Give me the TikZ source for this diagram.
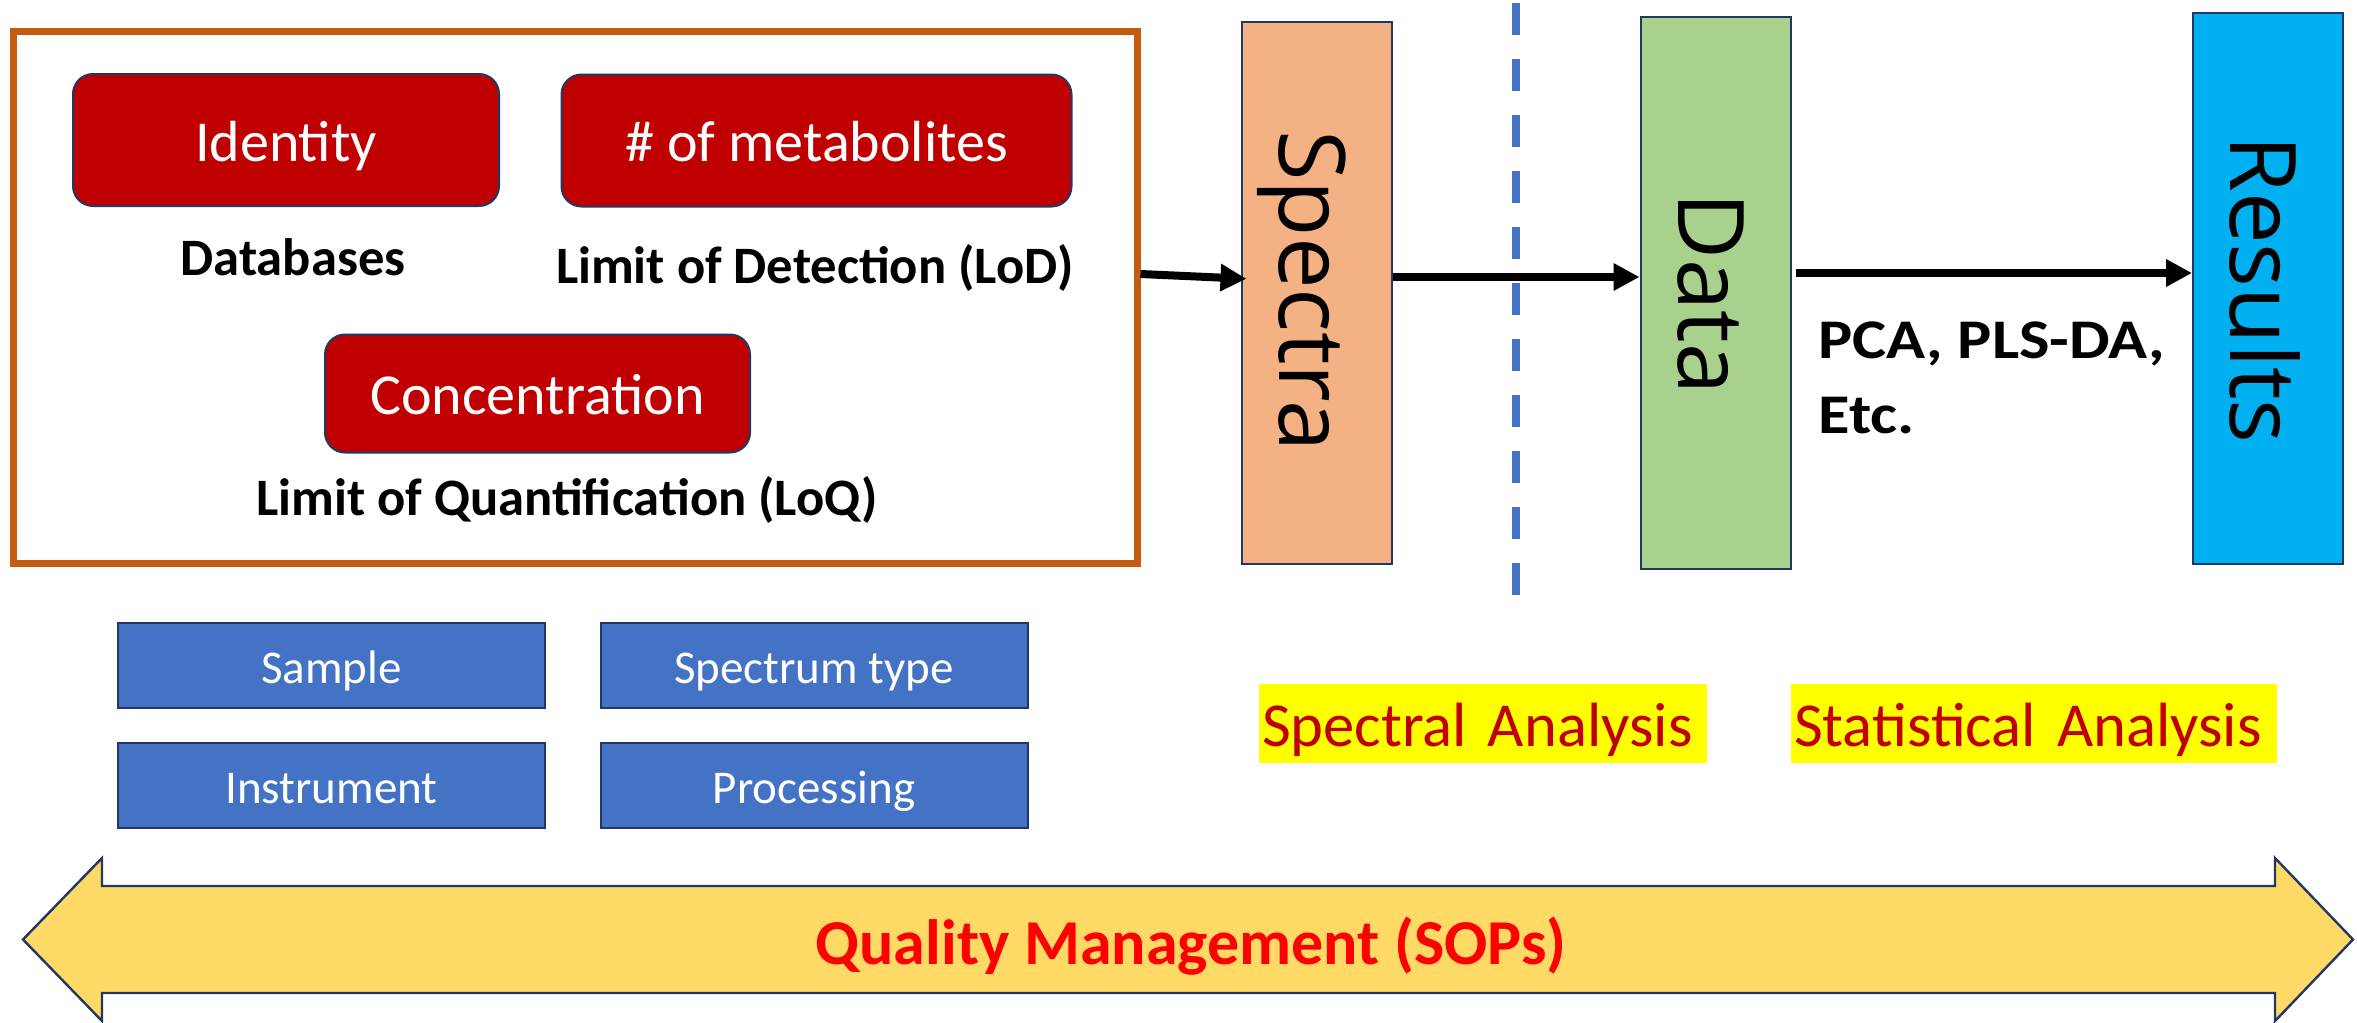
\documentclass[tikz,border=0pt]{standalone}
\usepackage{fontspec}
\setmainfont{Carlito}
\newfontfamily\stagefont{Open Sans}
\usetikzlibrary{arrows.meta}

\definecolor{frameorange}{HTML}{C55A11}
\definecolor{boxred}{HTML}{C00000}
\definecolor{navy}{HTML}{203864}
\definecolor{spectrafill}{HTML}{F4B183}
\definecolor{datafill}{HTML}{A9D18E}
\definecolor{resultsfill}{HTML}{00B0F0}
\definecolor{factorblue}{HTML}{4472C4}
\definecolor{qmfill}{HTML}{FFD966}
\definecolor{qmred}{HTML}{FF0000}
\definecolor{hilite}{HTML}{FFFF00}

\begin{document}
\begin{tikzpicture}[x=0.5pt,y=-0.5pt,
  redbox/.style={draw=navy, line width=1pt, fill=boxred, rounded corners=10pt,
    text=white, font=\fontsize{29}{35}\selectfont,
    text height=21.3pt, text depth=0pt, inner sep=0pt},
  caption/.style={font=\bfseries\fontsize{26.3}{31}\selectfont, inner sep=0pt, anchor=base},
  stagebox/.style={draw=navy, line width=1pt, minimum width=75pt, inner sep=0pt},
  stagetext/.style={font=\stagefont\fontsize{46}{55}\selectfont, rotate=-90,
    anchor=base, inner sep=0pt},
  flow/.style={line width=4pt, -{Triangle[length=13pt,width=13pt]}},
  factor/.style={draw=navy, line width=1pt, fill=factorblue, text=white,
    minimum width=213.5pt, minimum height=42.5pt, inner sep=0pt,
    font=\fontsize{23.5}{28}\selectfont, text height=17.5pt, text depth=0pt},
  phase/.style={fill=hilite, text=boxred, minimum height=39.5pt, inner ysep=0pt,
    inner xsep=1.5pt, align=left, text width=#1,
    font=\fontsize{31.3}{38}\selectfont, text height=23.3pt, text depth=0pt},
  qmarrow/.style={fill=qmfill, draw=navy, line width=1.2pt},
]
\useasboundingbox (0,0) rectangle (2357,1023);

% validation frame with the three figures of merit
\node[draw=frameorange, line width=3.5pt, minimum width=561.75pt, minimum height=266pt,
  inner sep=0pt] (frame) at (575.25,297.5) {};
\node[redbox, minimum width=213pt, minimum height=66pt] (identity) at (286,140) {Identity};
\node[redbox, minimum width=255pt, minimum height=66pt] (nmet) at (816.5,140.5) {\# of metabolites};
\node[redbox, minimum width=212.5pt, minimum height=59pt] (conc) at (537.5,393.5) {Concentration};
\node[caption] (db) at (293,275) {Databases};
\node[caption] (lod) at (815,283) {Limit of Detection (LoD)};
\node[caption] (loq) at (567,515) {Limit of Quantification (LoQ)};

% pipeline stages
\node[stagebox, fill=spectrafill, minimum height=271pt] (spectra) at (1316.5,293) {};
\node[stagebox, fill=datafill, minimum height=276pt] (data) at (1715.5,293) {};
\node[stagebox, fill=resultsfill, minimum height=275.5pt] (results) at (2268,288.5) {};
\node[stagetext] (spectraT) at (1279,291) {Spectra};
\node[stagetext] (dataT) at (1678,293.5) {Data};
\node[stagetext] (resultsT) at (2230,289.5) {Results};

% separator between spectral and statistical parts
\draw[factorblue, line width=4pt, dash pattern=on 16pt off 12pt] (1516,3) -- (1516,596);

% flow arrows
\draw[flow, shorten >=-3pt] ([yshift=11.75pt]frame.east) -- ([yshift=7.25pt]spectra.west);
\draw[flow] ([yshift=8pt]spectra.east) -- ([yshift=8pt]data.west);
\coordinate (row) at ([yshift=10pt]data.east);
\draw[flow, shorten <=2pt] (row) -- (row -| results.west);

\node[anchor=north west, align=left, inner sep=0pt, xscale=1.15,
  font=\bfseries\fontsize{28}{37.5}\selectfont] (methods) at (1818,321) {PCA, PLS-DA,\\Etc.};

% factors influencing the spectra
\node[factor] (sample) at (331.5,665.5) {Sample};
\node[factor] (sptype) at (814,665.5) {Spectrum type};
\node[factor] (instr) at (331.5,785.5) {Instrument};
\node[factor] (proc) at (814,785.5) {Processing};

% analysis phases
\node[phase=221pt] (spectral) at (1483,723.5) {Spectral Analysis};
\node[phase=240pt] (statistical) at (2034,723.5) {Statistical Analysis};

% quality management double arrow
\draw[qmarrow] (23,939.5) -- (102,858) -- (102,886) -- (2275,886) -- (2275,858)
  -- (2353,939.5) -- (2275,1021) -- (2275,993) -- (102,993) -- (102,1021) -- cycle;
\node[font=\bfseries\fontsize{32}{38}\selectfont, text=qmred, text height=23pt,
  text depth=0pt, inner sep=0pt] (qm) at (1191,941) {Quality Management (SOPs)};
\end{tikzpicture}
\end{document}
